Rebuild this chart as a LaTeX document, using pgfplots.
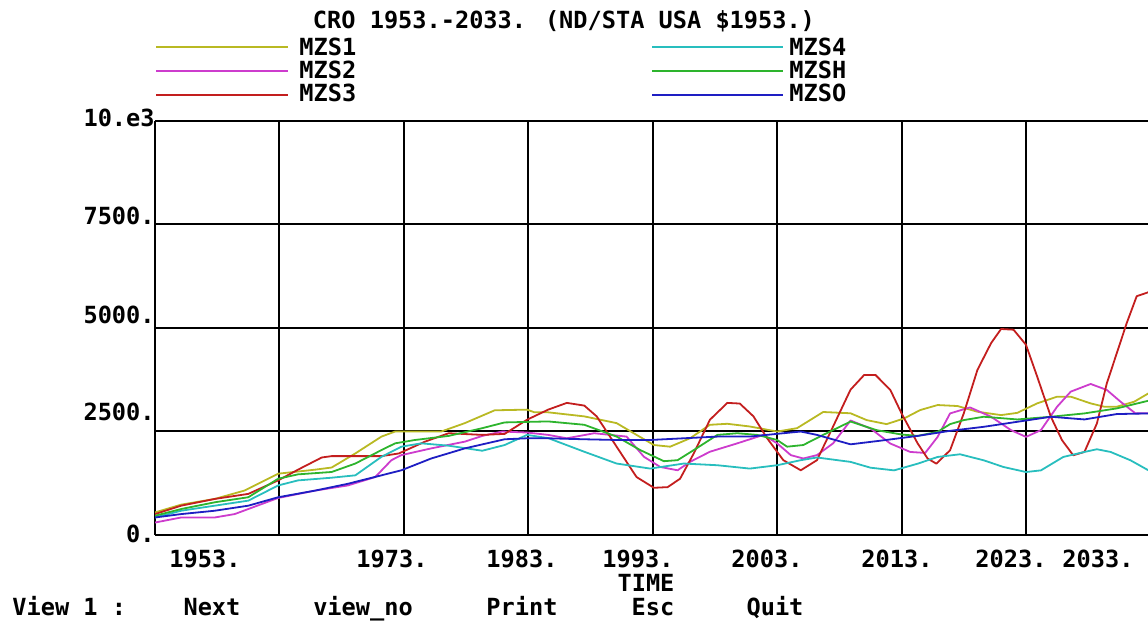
\documentclass[border=0pt]{standalone}
\usepackage{fontspec}
\setmainfont{DejaVu Sans Mono}
\usepackage{pgfplots}
\pgfplotsset{compat=1.18}
\definecolor{cA}{RGB}{185,185,35}
\definecolor{cB}{RGB}{205,60,205}
\definecolor{cC}{RGB}{195,30,30}
\definecolor{cD}{RGB}{40,190,190}
\definecolor{cE}{RGB}{45,180,45}
\definecolor{cF}{RGB}{30,30,195}
\pgfplotstableread{
x y
1953 545
1955.1 733
1957.8 871
1960.2 1074
1962.9 1481
1965.9 1579
1967.2 1630
1969.1 1970
1971.2 2377
1972.3 2499
1976.0 2499
1977.9 2702
1980.3 3012
1982.9 3028
1983.5 2963
1984.6 2963
1987.5 2865
1990.1 2702
1991.7 2418
1993.1 2173
1994.4 2133
1996.0 2336
1997.6 2662
1999.0 2686
2000.8 2621
2003.0 2499
2004.6 2580
2006.7 2971
2008.9 2940
2010.2 2775
2011.8 2678
2013.2 2815
2014.5 3018
2015.9 3139
2017.5 3115
2019.1 2977
2021.0 2896
2022.3 2950
2023.9 3179
2025.5 3341
2026.6 3341
2028.2 3179
2029.3 3098
2030.3 3098
2031.7 3220
2032.85 3422
}\mzsA
\pgfplotstableread{
x y
1953 301
1955.1 423
1957.8 423
1959.4 505
1962.9 895
1965.9 1074
1968.5 1197
1970.7 1400
1972.0 1807
1972.8 1929
1975.2 2092
1977.9 2255
1979.3 2393
1980.9 2499
1982.9 2475
1984.6 2418
1986.1 2336
1988.3 2458
1990.9 2377
1992.3 1888
1993.6 1644
1995.0 1563
1996.0 1766
1997.6 2011
1999.8 2214
2001.9 2418
2003.0 2214
2004.1 1929
2005.1 1848
2006.2 1929
2007.5 2214
2008.9 2765
2010.5 2573
2012.1 2209
2013.7 2006
2014.9 1982
2015.9 2370
2016.9 2937
2018.5 3082
2020.2 2856
2021.8 2532
2023.0 2370
2024.2 2532
2025.5 3098
2026.6 3463
2028.2 3648
2029.5 3503
2030.6 3220
2031.8 2937
2032.85 2940
}\mzsB
\pgfplotstableread{
x y
1953 505
1955.1 708
1957.8 871
1960.5 993
1962.9 1319
1964.5 1579
1966.4 1872
1967.2 1905
1971.2 1905
1972.6 1970
1974.7 2255
1976.6 2458
1979.3 2418
1981.1 2442
1982.9 2784
1984.6 3028
1986.1 3191
1987.5 3126
1988.5 2865
1990.1 2133
1991.7 1400
1993.1 1140
1994.2 1156
1995.2 1359
1996.3 1970
1997.6 2784
1999.0 3191
2000.0 3175
2001.1 2865
2002.2 2336
2003.5 1807
2004.9 1563
2006.2 1807
2007.5 2621
2008.9 3510
2010.0 3867
2010.9 3867
2012.1 3503
2013.0 2937
2014.3 2209
2015.1 1845
2015.8 1723
2016.9 2047
2018.0 2937
2019.1 3989
2020.2 4636
2021.0 4976
2022.0 4959
2023.0 4595
2023.9 3827
2025.0 2856
2025.9 2289
2026.8 1925
2027.7 2006
2028.7 2694
2029.5 3665
2030.3 4393
2031.1 5121
2031.9 5768
2032.85 5865
}\mzsC
\pgfplotstableread{
x y
1953 423
1955.1 586
1957.8 708
1960.5 830
1962.9 1197
1964.5 1319
1967.2 1384
1969.1 1441
1971.2 1888
1972.8 2133
1974.4 2214
1976.6 2157
1979.3 2035
1981.1 2173
1982.9 2418
1984.6 2340
1987.5 2011
1990.1 1726
1992.8 1604
1995.5 1726
1998.2 1685
2000.8 1604
2003.0 1685
2004.9 1807
2006.2 1872
2008.9 1766
2010.5 1626
2012.4 1561
2014.3 1723
2015.9 1885
2017.7 1950
2019.6 1804
2021.2 1642
2023.0 1521
2024.2 1561
2026.0 1885
2027.7 2006
2028.7 2071
2029.8 2006
2031.4 1804
2032.85 1561
}\mzsD
\pgfplotstableread{
x y
1953 464
1955.1 627
1957.8 790
1960.5 912
1962.9 1359
1964.5 1465
1967.2 1522
1969.1 1726
1971.2 2051
1972.3 2214
1973.9 2295
1976.6 2393
1979.3 2580
1981.1 2719
1984.6 2743
1987.5 2662
1990.1 2377
1992.0 2051
1993.9 1783
1995.0 1807
1996.3 2051
1998.2 2418
1999.8 2458
2001.4 2418
2003.0 2295
2003.8 2133
2005.1 2173
2006.7 2418
2008.9 2740
2011.0 2532
2013.0 2427
2014.3 2394
2015.9 2492
2016.9 2678
2018.0 2775
2019.6 2856
2022.3 2791
2025.0 2856
2027.7 2937
2030.3 3058
2032.85 3244
}\mzsE
\pgfplotstableread{
x y
1953 423
1955.1 505
1957.8 586
1960.5 708
1962.9 912
1965.9 1074
1968.5 1237
1971.2 1441
1972.8 1563
1975.2 1848
1977.9 2092
1981.1 2312
1982.9 2336
1984.6 2336
1987.5 2312
1990.1 2295
1992.8 2295
1995.5 2336
1998.2 2377
2000.8 2377
2003.5 2458
2004.9 2499
2006.2 2418
2008.9 2190
2011.6 2289
2014.3 2394
2016.9 2516
2019.6 2613
2022.3 2734
2025.0 2856
2027.7 2791
2030.3 2921
2032.85 2937
}\mzsF
\begin{document}
\begin{tikzpicture}[every node/.style={font=\fontsize{11.8}{13}\selectfont\bfseries, inner sep=0pt, text height=8.6pt, text depth=0pt}]
\path[use as bounding box] (0,0) rectangle (574pt,313pt);
\begin{axis}[at={(77.5pt,45.5pt)}, anchor=south west, scale only axis,
  width=497.7pt, height=207pt,
  xmin=1953, xmax=2033, ymin=0, ymax=10000,
  axis x line*=bottom, axis y line*=left,
  axis line style={-, black, line width=1pt},
  xtick={1953,1963,...,2023}, ytick={0,2500,5000,7500,10000},
  xticklabels={}, yticklabels={}, scaled y ticks=false,
  major tick length=0pt, grid=major,
  major grid style={black, line width=1pt},
  every axis plot/.append style={line width=0.9pt, line join=round}]
\addplot[cA] table {\mzsA};
\addplot[cB] table {\mzsB};
\addplot[cC] table {\mzsC};
\addplot[cD] table {\mzsD};
\addplot[cE] table {\mzsE};
\addplot[cF] table {\mzsF};
\end{axis}
\begin{scope}[x=0.5pt, y=-0.5pt, yshift=313pt]
\node at (564,20) {CRO 1953.-2033. (ND/STA USA \$1953.)};
\draw[cA, line width=1pt] (156,47) -- (288,47);
\draw[cB, line width=1pt] (156,71) -- (288,71);
\draw[cC, line width=1pt] (156,95) -- (288,95);
\draw[cD, line width=1pt] (652,47) -- (783,47);
\draw[cE, line width=1pt] (652,71) -- (783,71);
\draw[cF, line width=1pt] (652,95) -- (783,95);
\node[anchor=west] at (299,47) {MZS1};
\node[anchor=west] at (299,70) {MZS2};
\node[anchor=west] at (299,93) {MZS3};
\node[anchor=west] at (789,47) {MZS4};
\node[anchor=west] at (789,70) {MZSH};
\node[anchor=west] at (789,93) {MZSO};
\node[anchor=east] at (155,118) {10.e3};
\node[anchor=east] at (155,216) {7500.};
\node[anchor=east] at (155,315) {5000.};
\node[anchor=east] at (155,412) {2500.};
\node[anchor=east] at (155,534) {0.};
\node at (205,559) {1953.};
\node at (392,559) {1973.};
\node at (522,559) {1983.};
\node at (638,559) {1993.};
\node at (767,559) {2003.};
\node at (897,559) {2013.};
\node at (1011,559) {2023.};
\node at (1098,559) {2033.};
\node at (646,583) {TIME};
\node[anchor=west] at (12,607) {View 1 :};
\node at (212,607) {Next};
\node at (363,607) {view\_no};
\node at (522,607) {Print};
\node at (653,607) {Esc};
\node at (775,607) {Quit};
\end{scope}
\end{tikzpicture}
\end{document}
